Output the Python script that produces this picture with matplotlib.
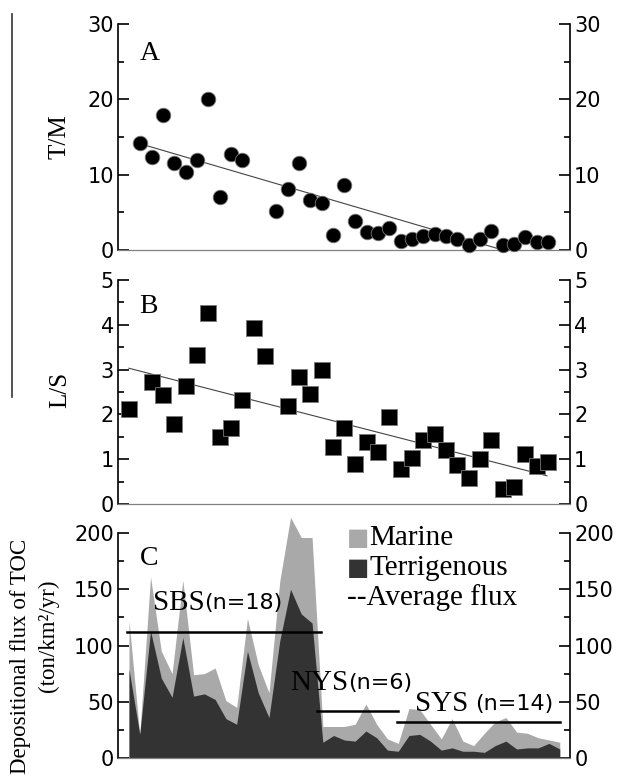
import matplotlib
matplotlib.use("Agg")
import matplotlib.pyplot as plt
from matplotlib.lines import Line2D
from matplotlib.ticker import MultipleLocator
import numpy as np

# ---------------- data ----------------
# Panel A: T/M ratio (sample index -> value)
tm_idx = [1, 2, 3, 4, 5, 6, 7, 8, 9, 10, 13, 14, 15, 16, 17, 18, 19, 20, 21, 22,
          23, 24, 25, 26, 27, 28, 29, 30, 31, 32, 33, 34, 35, 36, 37]
tm_val = [14.2, 12.3, 17.9, 11.5, 10.3, 12.0, 20.0, 7.1, 12.8, 12.0, 5.2, 8.1, 11.5,
          6.6, 6.2, 2.0, 8.6, 3.9, 2.4, 2.3, 2.9, 1.2, 1.4, 1.9, 2.1, 1.8, 1.5, 0.6,
          1.4, 2.5, 0.6, 0.8, 1.7, 1.1, 1.0]
tm_trend_x = [1, 33]
tm_trend_y = [14.1, 0.0]

# Panel B: L/S ratio
ls_idx = [0, 2, 3, 4, 5, 6, 7, 8, 9, 10, 11, 12, 14, 15, 16, 17, 18, 19, 20, 21,
          22, 23, 24, 25, 26, 27, 28, 29, 30, 31, 32, 33, 34, 35, 36, 37]
ls_val = [2.12, 2.72, 2.43, 1.78, 2.63, 3.33, 4.26, 1.50, 1.69, 2.32, 3.92, 3.31,
          2.19, 2.83, 2.46, 2.98, 1.28, 1.70, 0.90, 1.38, 1.17, 1.95, 0.78, 1.02,
          1.43, 1.56, 1.21, 0.87, 0.58, 1.01, 1.43, 0.33, 0.37, 1.12, 0.84, 0.93]
ls_trend_x = [0, 36.9]
ls_trend_y = [3.03, 0.63]

# Panel C: depositional flux of TOC (ton/km2/yr)
total_flux = [122, 21, 161, 95, 75, 158, 74, 75, 80, 51, 45, 124, 83, 58, 157, 214,
              196, 196, 28, 28, 28, 30, 48, 30, 17, 13, 44, 43, 30, 17, 35, 15, 11,
              22, 32, 36, 23, 22, 18, 16, 14]
terr_flux = [79, 21, 113, 71, 54, 107, 55, 57, 52, 35, 30, 95, 58, 36, 104, 150,
             128, 120, 14, 20, 16, 15, 24, 18, 7, 6, 20, 21, 15, 7, 9, 6, 6, 5, 11,
             15, 8, 9, 9, 13, 8]
region_names = ["SBS", "NYS", "SYS "]
region_n = ["(n=18)", "(n=6)", "(n=14)"]
region_mean = [112, 42, 32]
region_span = [(-0.2, 17.8), (17.5, 25.0), (24.9, 40.0)]

legend_labels = ["Marine", "Terrigenous", "--Average flux"]

# ---------------- figure ----------------
W, H = 621, 778
fig = plt.figure(figsize=(W / 100, H / 100), dpi=100)

def ax_at(left, right, top, bottom):
    return fig.add_axes([left / W, 1 - bottom / H, (right - left) / W, (bottom - top) / H])

SERIF = ["Liberation Serif", "DejaVu Serif"]
SANS = ["DejaVu Sans"]

L, R = 118, 570
axA = ax_at(L, R, 24, 250)
axB = ax_at(L, R, 280, 504)
axC = ax_at(L, R, 533, 758)

def style(ax, ymax, major, minor):
    ax.set_ylim(0, ymax)
    ax.yaxis.set_major_locator(MultipleLocator(major))
    ax.yaxis.set_minor_locator(MultipleLocator(minor))
    ax.spines["top"].set_visible(False)
    for s in ("left", "right"):
        ax.spines[s].set_linewidth(1.2)
        ax.spines[s].set_color("black")
    ax.spines["bottom"].set_linewidth(0.9)
    ax.spines["bottom"].set_color("#808080")
    ax.tick_params(axis="y", which="both", direction="in", left=True, right=True,
                   labelleft=True, labelright=True, width=1.2, colors="black",
                   labelsize=15, pad=3)
    ax.tick_params(axis="y", which="major", length=8)
    ax.tick_params(axis="y", which="minor", length=4.5)
    ax.tick_params(axis="x", which="both", bottom=False, labelbottom=False)
    for lab in ax.get_yticklabels():
        lab.set_family(SANS)

# Panel A
axA.set_xlim(-0.97, 38.94)
axA.plot(tm_trend_x, tm_trend_y, color="#444444", lw=0.8, zorder=2)
axA.plot(tm_idx, tm_val, "o", color="black", markersize=10.5,
         markeredgecolor="#777777", markeredgewidth=0.6, zorder=3, clip_on=False)
style(axA, 30, 10, 5)
axA.text(0.048, 0.87, "A", transform=axA.transAxes, family=SERIF, fontsize=20,
         va="center", ha="left")

# Panel B
axB.set_xlim(-0.97, 38.94)
axB.plot(ls_trend_x, ls_trend_y, color="#444444", lw=0.8, zorder=2)
axB.plot(ls_idx, ls_val, "s", color="black", markersize=11.5,
         markeredgecolor="#777777", markeredgewidth=0.6, zorder=3, clip_on=False)
style(axB, 5, 1, 0.5)
axB.text(0.048, 0.88, "B", transform=axB.transAxes, family=SERIF, fontsize=20,
         va="center", ha="left")

# Panel C
xc = np.arange(len(total_flux))
axC.set_xlim(-1.02, 40.95)
axC.fill_between(xc, 0, total_flux, color="#a9a9a9", lw=0, clip_on=False, zorder=1)
axC.fill_between(xc, 0, terr_flux, color="#333333", lw=0, clip_on=False, zorder=2)
style(axC, 200, 50, 25)
axC.text(0.048, 0.885, "C", transform=axC.transAxes, family=SERIF, fontsize=20,
         va="center", ha="left")

for (x0, x1), m in zip(region_span, region_mean):
    axC.plot([x0, x1], [m, m], color="black", lw=1.8, zorder=4, clip_on=False)

label_pos = [(153, 603), (290, 683), (415, 704)]
for (px, py), nm, nn in zip(label_pos, region_names, region_n):
    xa = (px - L) / (R - L)
    ya = 1 - (py - 533) / (758 - 533)
    t1 = axC.text(xa, ya, nm, transform=axC.transAxes, family=SERIF, fontsize=21,
                  va="center", ha="left", zorder=5)
    axC.annotate(nn, xy=(1, 0.5), xycoords=t1, va="center", ha="left",
                 family=SANS, fontsize=16, zorder=5)

# legend-like text
leg_x = (347 - L) / (R - L)
leg_y = [538, 568, 598]
leg_cols = ["#a9a9a9", "#333333", None]
for lab, py, col in zip(legend_labels, leg_y, leg_cols):
    ya = 1 - (py - 533) / (758 - 533)
    if col is not None:
        sq = axC.text(leg_x, ya, "\u25A0", transform=axC.transAxes, color=col,
                      family=SANS, fontsize=17, va="center", ha="left", zorder=5)
        axC.annotate(lab, xy=(1, 0.5), xycoords=sq, va="center", ha="left",
                     family=SERIF, fontsize=21, zorder=5)
    else:
        axC.text(leg_x, ya, lab, transform=axC.transAxes, family=SERIF,
                 fontsize=21, va="center", ha="left", zorder=5)

# axis titles
fig.text(60 / W, 1 - 137 / H, "T/M", rotation=90, family=SERIF, fontsize=18,
         ha="center", va="center")
fig.text(60 / W, 1 - 390 / H, "L/S", rotation=90, family=SERIF, fontsize=18,
         ha="center", va="center")
fig.text(21 / W, 1 - 656 / H, "Depositional flux of TOC", rotation=90, family=SERIF,
         fontsize=16.5, ha="center", va="center")
fig.text(48 / W, 1 - 636 / H, "(ton/km\u00b2/yr)", rotation=90, family=SERIF,
         fontsize=16.5, ha="center", va="center")

# stray vertical rule at top-left
fig.add_artist(Line2D([12 / W, 12 / W], [1 - 14 / H, 1 - 397 / H], color="#333333",
                      lw=1.2, transform=fig.transFigure))

fig.savefig("out.png", dpi=100)
